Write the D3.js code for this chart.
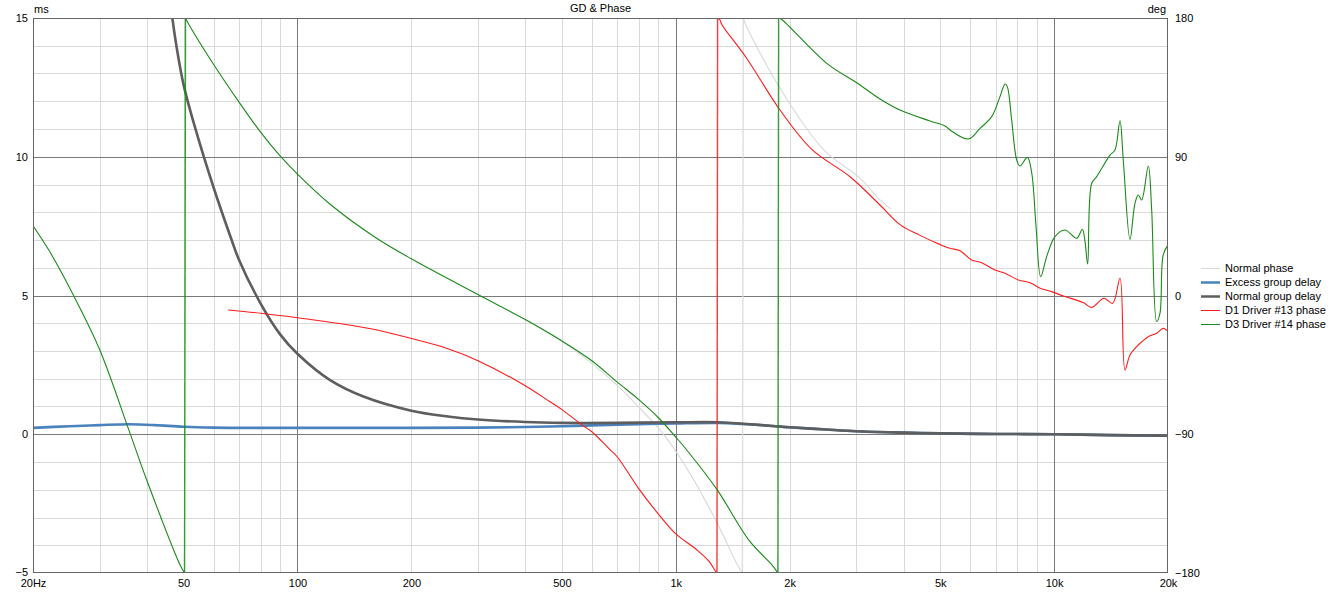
<!DOCTYPE html>
<html>
<head>
<meta charset="utf-8">
<script src="https://cdn.jsdelivr.net/npm/d3@7"></script>
<style>
  html, body { margin: 0; padding: 0; background: #fff; }
  svg { display: block; }
  text { font-family: "Liberation Sans", Arial, sans-serif; font-size: 11px; fill: #000; }
</style>
</head>
<body>
<svg id="chart" width="1335" height="592"></svg>
<script>
// ---------- data ----------
const title = "GD & Phase";
const leftUnit = "ms";
const rightUnit = "deg";
const xTickLabels = [[20, "20Hz"], [50, "50"], [100, "100"], [200, "200"], [500, "500"], [1000, "1k"], [2000, "2k"], [5000, "5k"], [10000, "10k"], [20000, "20k"]];
const leftTicks = [15, 10, 5, 0, -5];
const rightTicks = [180, 90, 0, -90, -180];
const seriesNames = ["Normal phase", "Excess group delay", "Normal group delay", "D1 Driver #13 phase", "D3 Driver #14 phase"];

// [Hz, ms]
const excessGD = [[20,0.23],[25,0.29],[30,0.33],[36,0.36],[42,0.33],[50,0.27],[60,0.24],[80,0.23],[122,0.23],[200,0.23],[300,0.24],[400,0.26],[500,0.29],[600,0.32],[800,0.36],[1000,0.39],[1300,0.41],[1500,0.37],[1800,0.3],[2000,0.25],[2500,0.17],[3000,0.11],[4000,0.06],[5000,0.03],[7000,0.01],[10000,0],[14000,-0.03],[20000,-0.05]];
const normalGD = [[46.7,15],[48,13.9],[50,12.6],[53.5,11.1],[60,8.9],[67,7.0],[70,6.3],[80,4.7],[90,3.6],[100,2.9],[122,1.95],[150,1.35],[200,0.85],[250,0.64],[300,0.53],[400,0.44],[500,0.41],[700,0.41],[1000,0.43],[1300,0.43],[1500,0.38],[1800,0.3],[2000,0.25],[2500,0.17],[3000,0.11],[4000,0.06],[5000,0.03],[7000,0.01],[10000,0],[14000,-0.03],[20000,-0.05]];
// [Hz, deg]
const normalPhase = [[400,-15.6],[500,-29.5],[600,-44],[698,-58],[796,-72.1],[908,-87.2],[995,-100.2],[1100,-117],[1283,-147],[1450,-174],[1500,-180],[1508,180],[1532,175.5],[1886,134.4],[2454,94.8],[3070,76],[3466,62],[3700,56]];
const d1Phase = [[65.6,-9.4],[80,-11.5],[100,-14.4],[122,-17.3],[160,-22],[200,-27.9],[250,-34.5],[300,-42.3],[400,-58.5],[465,-68.9],[500,-74],[570,-84.6],[600,-88.4],[670,-100],[700,-104.6],[800,-125.6],[900,-141.8],[1000,-154.6],[1136,-164.9],[1220,-172],[1275,-179],[1285,-180],[1290,180],[1309,178.7],[1322,176],[1539,153.9],[1886,120.3],[2288,94.8],[2888,77],[3466,58.7],[3914,46],[4420,39],[5000,33],[5306,30.6],[5640,29.1],[6054,23],[6436,21.3],[6978,16.5],[7417,14.4],[8046,10.1],[8638,8.3],[9184,4.7],[9852,2.5],[10578,-0.3],[11944,-4.6],[12570,-7.7],[13548,-1.8],[14282,-5.1],[14932,11.2],[15394,-48.3],[15868,-38.6],[16690,-32.1],[17738,-26.7],[18666,-24.5],[19428,-21.3],[20000,-23.4]];
const d3Phase = [[20,45.2],[22.2,28],[25.6,0],[30,-35],[35.7,-86],[40,-120],[49,-175],[50.3,-180],[50.6,180],[51.6,176],[60,150],[70,125.6],[80,105.8],[90,90.5],[100,78.7],[122,59.2],[160,38],[200,23.8],[300,0.6],[400,-15.6],[500,-29.5],[600,-42.3],[698,-55.9],[800,-67.7],[900,-79.3],[1000,-91.8],[1069,-100.2],[1283,-125.6],[1564,-159],[1800,-175],[1862,-180],[1870,180],[1906,179],[2506,150.6],[3008,138],[3466,127.5],[3914,120.3],[4700,113.2],[5148,110],[5306,107.4],[5934,101.5],[6372,108.4],[6840,116],[7194,129],[7417,137.2],[7521,135.5],[7724,113.8],[7964,87.9],[8126,84],[8500,89.6],[8728,79.3],[8958,44.7],[9216,12.2],[9558,25.2],[10052,38.2],[10684,42.5],[11474,37.1],[11872,43],[12068,35],[12266,20.4],[12570,72.8],[12958,77.1],[14052,91.1],[14484,94.4],[14932,113.4],[15234,87.9],[15868,36.4],[16358,59.8],[16690,65.2],[17040,62],[17738,84],[18108,55.5],[18666,-16.9],[19044,-11.6],[19428,26.3],[20000,32.8]];

// ---------- layout ----------
const L = 33, R = 1168, T = 18, B = 573;
const svg = d3.select("#chart");
const x = d3.scaleLog().domain([20, 20000]).range([L, R]);
const yL = d3.scaleLinear().domain([-5, 15]).range([B, T]);
const yR = d3.scaleLinear().domain([-180, 180]).range([B, T]);
const crisp = v => Math.round(v) + 0.5;

svg.append("defs").append("clipPath").attr("id", "plotclip")
  .append("rect").attr("x", L).attr("y", T).attr("width", R - L).attr("height", B - T);

// grid
const grid = svg.append("g");
const minorX = [], majorX = [100, 1000, 10000];
[10, 100, 1000].forEach(dec => { for (let m = 2; m <= 9; m++) { const f = dec * m; if (f > 20 && f < 20000) minorX.push(f); } });
const minorY = d3.range(-4, 15).filter(v => v % 5 !== 0);
const majorY = [0, 5, 10];
grid.selectAll(".mx").data(minorX).join("line")
  .attr("x1", d => crisp(x(d))).attr("x2", d => crisp(x(d))).attr("y1", T).attr("y2", B)
  .attr("stroke", "#dadada").attr("stroke-width", 1);
grid.selectAll(".my").data(minorY).join("line")
  .attr("y1", d => crisp(yL(d))).attr("y2", d => crisp(yL(d))).attr("x1", L).attr("x2", R)
  .attr("stroke", "#dadada").attr("stroke-width", 1);
grid.selectAll(".Mx").data(majorX).join("line")
  .attr("x1", d => crisp(x(d))).attr("x2", d => crisp(x(d))).attr("y1", T).attr("y2", B)
  .attr("stroke", "#7a7a7a").attr("stroke-width", 1);
grid.selectAll(".My").data(majorY).join("line")
  .attr("y1", d => crisp(yL(d))).attr("y2", d => crisp(yL(d))).attr("x1", L).attr("x2", R)
  .attr("stroke", "#7a7a7a").attr("stroke-width", 1);

// series
const plot = svg.append("g").attr("clip-path", "url(#plotclip)");
const smooth = d3.curveCatmullRom.alpha(0.5);
function splitWraps(data) {
  const segs = [[data[0]]];
  for (let i = 1; i < data.length; i++) {
    if (Math.abs(data[i][1] - data[i - 1][1]) > 180) segs.push([]);
    segs[segs.length - 1].push(data[i]);
  }
  return segs;
}
function drawSeries(data, yScale, color, w) {
  const segs = splitWraps(data);
  const gen = d3.line().x(d => x(d[0])).y(d => yScale(d[1])).curve(smooth);
  const lin = d3.line().x(d => x(d[0])).y(d => yScale(d[1]));
  segs.forEach((s, i) => {
    plot.append("path").attr("d", gen(s)).attr("fill", "none")
      .attr("stroke", color).attr("stroke-width", w).attr("stroke-linejoin", "round");
    if (i > 0) {
      const prev = segs[i - 1];
      plot.append("path").attr("d", lin([prev[prev.length - 1], s[0]])).attr("fill", "none")
        .attr("stroke", color).attr("stroke-width", w * 1.3).attr("stroke-opacity", 0.85);
    }
  });
}
const series = [
  { data: normalPhase, y: yR, color: "#d9d9d9", w: 1.1 },
  { data: excessGD, y: yL, color: "#4a82bd", w: 2.6 },
  { data: normalGD, y: yL, color: "#5e5e5e", w: 2.6 },
  { data: d1Phase, y: yR, color: "#ff1a1a", w: 1.1 },
  { data: d3Phase, y: yR, color: "#1a8a1a", w: 1.1 }
];
series.forEach(s => drawSeries(s.data, s.y, s.color, s.w));

// frame
svg.append("rect").attr("x", L + 0.5).attr("y", T + 0.5).attr("width", R - L - 1).attr("height", B - T - 1)
  .attr("fill", "none").attr("stroke", "#666").attr("stroke-width", 1);

// axes (labels only)
const axL = svg.append("g").attr("transform", `translate(${L - 3},0)`)
  .call(d3.axisLeft(yL).tickValues(leftTicks).tickSize(0).tickPadding(2).tickFormat(d3.format("d")));
const axR = svg.append("g").attr("transform", `translate(${R + 5},0)`)
  .call(d3.axisRight(yR).tickValues(rightTicks).tickSize(0).tickPadding(2).tickFormat(d3.format("d")));
const axB = svg.append("g").attr("transform", `translate(0,${B + 3})`)
  .call(d3.axisBottom(x).tickValues(xTickLabels.map(d => d[0])).tickSize(0).tickPadding(3)
    .tickFormat(d => (xTickLabels.find(t => t[0] === d) || [0, ""])[1]));
[axL, axR, axB].forEach(a => {
  a.select(".domain").remove();
  a.selectAll("text").attr("fill", "#000").style("font-size", "11px").style("font-family", "'Liberation Sans', Arial, sans-serif");
});
axL.selectAll("text").filter(d => d === -5).attr("dy", "0.2em");

// titles
svg.append("text").attr("x", (L + R) / 2).attr("y", 12).attr("text-anchor", "middle").text(title);
svg.append("text").attr("x", L + 1).attr("y", 13).text(leftUnit);
svg.append("text").attr("x", R - 2).attr("y", 13).attr("text-anchor", "end").text(rightUnit);

// legend
const legend = svg.append("g").attr("transform", "translate(1201,268)");
seriesNames.forEach((name, i) => {
  const g = legend.append("g").attr("transform", `translate(0,${i * 14})`);
  g.append("line").attr("x1", 0).attr("x2", 19).attr("y1", 0.5).attr("y2", 0.5)
    .attr("stroke", series[i].color).attr("stroke-width", series[i].w > 2 ? 2.5 : 1);
  g.append("text").attr("x", 24).attr("y", 4).text(name);
});
</script>
</body>
</html>
